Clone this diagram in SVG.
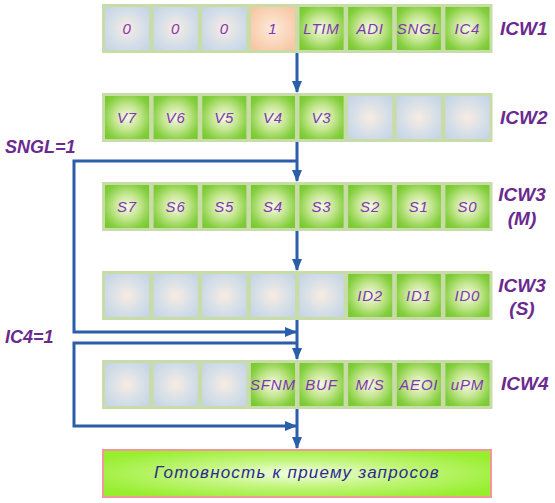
<svg xmlns="http://www.w3.org/2000/svg" width="555" height="503" viewBox="0 0 555 503">
<defs>
<radialGradient id="gG" cx="50%" cy="50%" r="60%">
<stop offset="0" stop-color="#f6fae6"/>
<stop offset="0.45" stop-color="#c4e690"/>
<stop offset="0.85" stop-color="#84cf3e"/>
<stop offset="1" stop-color="#7ac934"/>
</radialGradient>
<radialGradient id="gB" cx="50%" cy="50%" r="60%">
<stop offset="0" stop-color="#f8ece2"/>
<stop offset="0.6" stop-color="#d6dfe8"/>
<stop offset="1" stop-color="#c6d5e6"/>
</radialGradient>
<radialGradient id="gO" cx="50%" cy="50%" r="60%">
<stop offset="0" stop-color="#fdeadc"/>
<stop offset="1" stop-color="#f8c6a2"/>
</radialGradient>
<radialGradient id="gF" cx="50%" cy="50%" r="60%">
<stop offset="0" stop-color="#f4fde6"/>
<stop offset="0.45" stop-color="#c4f680"/>
<stop offset="1" stop-color="#96ee2c"/>
</radialGradient>
<marker id="ah" viewBox="0 0 12 10" refX="11" refY="5" markerWidth="12" markerHeight="10" markerUnits="userSpaceOnUse" orient="auto">
<path d="M0,0 L12,5 L0,10 Z" fill="#2a5ea8"/>
</marker>
</defs>
<style>
.frame{fill:#c8dca8}
.c{stroke:#c8dca8;stroke-width:3}
.g{fill:url(#gG)}
.b{fill:url(#gB)}
.o{fill:url(#gO)}
.t{font-family:"Liberation Sans",Arial,sans-serif;font-style:italic;font-size:15px;fill:#8236b2;text-anchor:middle;letter-spacing:0.8px}
.lbl{font-family:"Liberation Sans",Arial,sans-serif;font-style:italic;font-weight:bold;font-size:19px;fill:#6a2a90}
.side{font-family:"Liberation Sans",Arial,sans-serif;font-style:italic;font-weight:bold;font-size:18px;fill:#6a2a90}
.con{fill:none;stroke:#2a5ea8;stroke-width:3}
</style>

<g id="icw1">
<rect class="frame" x="102" y="4" width="389" height="49"/>
<rect class="c b" x="103.5" y="5.5" width="47.1" height="46"/>
<rect class="c b" x="152.1" y="5.5" width="47.1" height="46"/>
<rect class="c b" x="200.8" y="5.5" width="47.1" height="46"/>
<rect class="c o" x="249.4" y="5.5" width="47.1" height="46"/>
<rect class="c g" x="298.0" y="5.5" width="47.1" height="46"/>
<rect class="c g" x="346.6" y="5.5" width="47.1" height="46"/>
<rect class="c g" x="395.3" y="5.5" width="47.1" height="46"/>
<rect class="c g" x="443.9" y="5.5" width="47.1" height="46"/>
<text class="t" x="127" y="34">0</text>
<text class="t" x="175.6" y="34">0</text>
<text class="t" x="224.3" y="34">0</text>
<text class="t" x="272.9" y="34">1</text>
<text class="t" x="321.5" y="34">LTIM</text>
<text class="t" x="370.1" y="34">ADI</text>
<text class="t" x="418.8" y="34" letter-spacing="0.2">SNGL</text>
<text class="t" x="467.4" y="34">IC4</text>
<text class="lbl" x="500" y="35">ICW1</text>
</g>

<g id="icw2">
<rect class="frame" x="102" y="93" width="389" height="49"/>
<rect class="c g" x="103.5" y="94.5" width="47.1" height="46"/>
<rect class="c g" x="152.1" y="94.5" width="47.1" height="46"/>
<rect class="c g" x="200.8" y="94.5" width="47.1" height="46"/>
<rect class="c g" x="249.4" y="94.5" width="47.1" height="46"/>
<rect class="c g" x="298.0" y="94.5" width="47.1" height="46"/>
<rect class="c b" x="346.6" y="94.5" width="47.1" height="46"/>
<rect class="c b" x="395.3" y="94.5" width="47.1" height="46"/>
<rect class="c b" x="443.9" y="94.5" width="47.1" height="46"/>
<text class="t" x="127" y="123">V7</text>
<text class="t" x="175.6" y="123">V6</text>
<text class="t" x="224.3" y="123">V5</text>
<text class="t" x="272.9" y="123">V4</text>
<text class="t" x="321.5" y="123">V3</text>
<text class="lbl" x="500" y="124">ICW2</text>
</g>

<g id="icw3m">
<rect class="frame" x="102" y="182" width="389" height="49"/>
<rect class="c g" x="103.5" y="183.5" width="47.1" height="46"/>
<rect class="c g" x="152.1" y="183.5" width="47.1" height="46"/>
<rect class="c g" x="200.8" y="183.5" width="47.1" height="46"/>
<rect class="c g" x="249.4" y="183.5" width="47.1" height="46"/>
<rect class="c g" x="298.0" y="183.5" width="47.1" height="46"/>
<rect class="c g" x="346.6" y="183.5" width="47.1" height="46"/>
<rect class="c g" x="395.3" y="183.5" width="47.1" height="46"/>
<rect class="c g" x="443.9" y="183.5" width="47.1" height="46"/>
<text class="t" x="127" y="212">S7</text>
<text class="t" x="175.6" y="212">S6</text>
<text class="t" x="224.3" y="212">S5</text>
<text class="t" x="272.9" y="212">S4</text>
<text class="t" x="321.5" y="212">S3</text>
<text class="t" x="370.1" y="212">S2</text>
<text class="t" x="418.8" y="212">S1</text>
<text class="t" x="467.4" y="212">S0</text>
<text class="lbl" x="522" y="201" text-anchor="middle">ICW3</text>
<text class="lbl" x="522" y="225" text-anchor="middle">(M)</text>
</g>

<g id="icw3s">
<rect class="frame" x="102" y="271" width="389" height="49"/>
<rect class="c b" x="103.5" y="272.5" width="47.1" height="46"/>
<rect class="c b" x="152.1" y="272.5" width="47.1" height="46"/>
<rect class="c b" x="200.8" y="272.5" width="47.1" height="46"/>
<rect class="c b" x="249.4" y="272.5" width="47.1" height="46"/>
<rect class="c b" x="298.0" y="272.5" width="47.1" height="46"/>
<rect class="c g" x="346.6" y="272.5" width="47.1" height="46"/>
<rect class="c g" x="395.3" y="272.5" width="47.1" height="46"/>
<rect class="c g" x="443.9" y="272.5" width="47.1" height="46"/>
<text class="t" x="370.1" y="301">ID2</text>
<text class="t" x="418.8" y="301">ID1</text>
<text class="t" x="467.4" y="301">ID0</text>
<text class="lbl" x="522" y="292" text-anchor="middle">ICW3</text>
<text class="lbl" x="522" y="315" text-anchor="middle">(S)</text>
</g>

<g id="icw4">
<rect class="frame" x="102" y="360" width="389" height="49"/>
<rect class="c b" x="103.5" y="361.5" width="47.1" height="46"/>
<rect class="c b" x="152.1" y="361.5" width="47.1" height="46"/>
<rect class="c b" x="200.8" y="361.5" width="47.1" height="46"/>
<rect class="c g" x="249.4" y="361.5" width="47.1" height="46"/>
<rect class="c g" x="298.0" y="361.5" width="47.1" height="46"/>
<rect class="c g" x="346.6" y="361.5" width="47.1" height="46"/>
<rect class="c g" x="395.3" y="361.5" width="47.1" height="46"/>
<rect class="c g" x="443.9" y="361.5" width="47.1" height="46"/>
<text class="t" x="272.9" y="390" letter-spacing="0.2">SFNM</text>
<text class="t" x="321.5" y="390">BUF</text>
<text class="t" x="370.1" y="390">M/S</text>
<text class="t" x="418.8" y="390" letter-spacing="0.2">AEOI</text>
<text class="t" x="467.4" y="390">uPM</text>
<text class="lbl" x="501" y="390">ICW4</text>
</g>

<g id="ready">
<rect x="103" y="450" width="388" height="47" fill="url(#gF)" stroke="#f29898" stroke-width="2"/>
<text x="297" y="478" text-anchor="middle" font-family="'Liberation Sans',Arial,sans-serif" font-style="italic" font-size="17" fill="#2b2b8c" letter-spacing="1.2">Готовность к приему запросов</text>
</g>

<g id="conditions">
<text class="side" x="5" y="153">SNGL=1</text>
<text class="side" x="5" y="343">IC4=1</text>
</g>

<g id="connectors">
<path class="con" d="M297,53 V92" marker-end="url(#ah)"/>
<path class="con" d="M297,142 V181" marker-end="url(#ah)"/>
<path class="con" d="M297,161 H74 V332 H296" marker-end="url(#ah)"/>
<path class="con" d="M297,231 V270" marker-end="url(#ah)"/>
<path class="con" d="M297,320 V359" marker-end="url(#ah)"/>
<path class="con" d="M297,343 H74 V426 H296" marker-end="url(#ah)"/>
<path class="con" d="M297,409 V448" marker-end="url(#ah)"/>
</g>
</svg>
